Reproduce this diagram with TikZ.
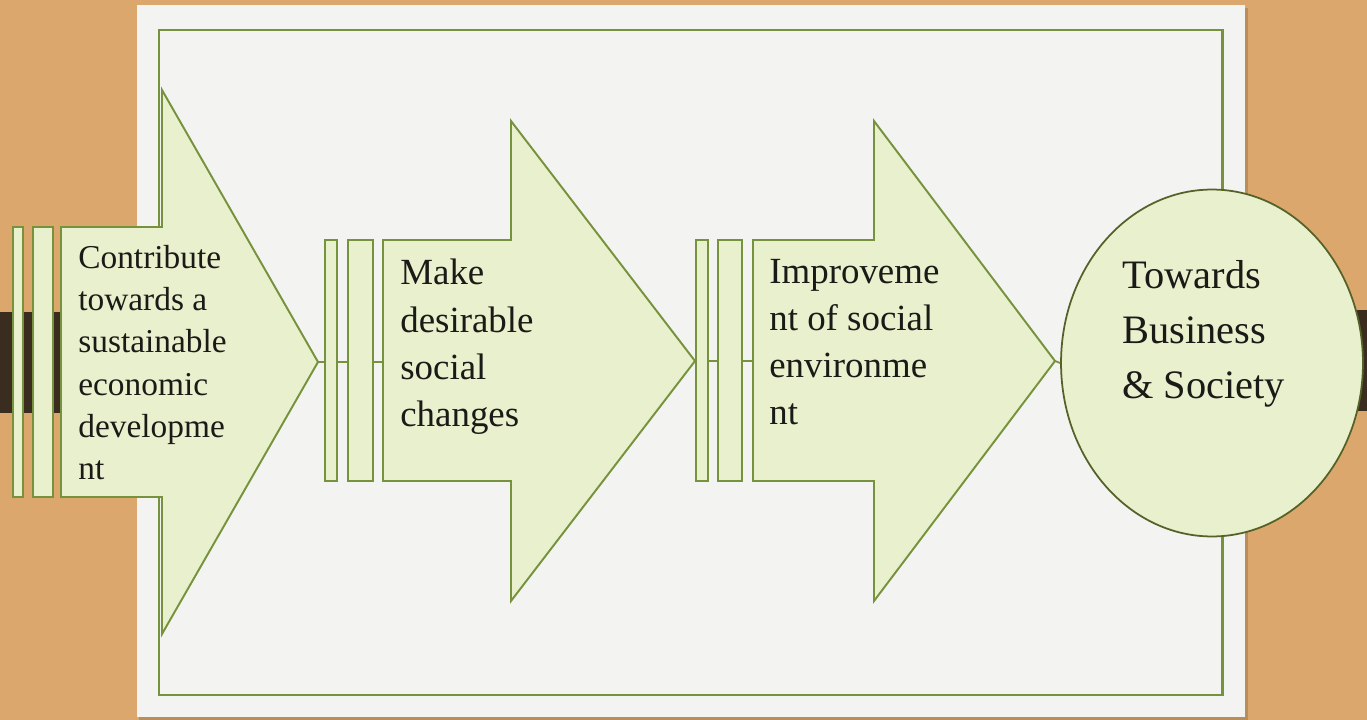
\documentclass[tikz,border=0pt]{standalone}
\usepackage{fontspec}
\setmainfont{Liberation Serif}
\usetikzlibrary{shapes.geometric}
\definecolor{wood}{RGB}{219,167,108}
\definecolor{darkbar}{RGB}{58,45,32}
\definecolor{panel}{RGB}{243,243,242}
\definecolor{olive}{RGB}{118,146,60}
\definecolor{darkolive}{RGB}{84,98,40}
\definecolor{leaf}{RGB}{233,240,206}
\definecolor{ink}{RGB}{26,26,22}

\begin{document}
\begin{tikzpicture}[x=0.02cm,y=-0.02cm,
    flow/.style={draw=olive,fill=leaf,line width=1.1pt},
    bar/.style={draw=olive,fill=leaf,line width=1.4pt,inner sep=0pt},
    link/.style={draw=olive,line width=1pt},
    words/.style={anchor=north west,inner sep=0pt,align=left,text=ink}]
    \useasboundingbox (0,0) rectangle (1367,720);
    % Draw the background
    \fill[wood] (0,0) rectangle (1367,720); % table
    \fill[darkbar] (0,312) rectangle (140,413); % left bar
    \fill[darkbar] (1240,310) rectangle (1367,411); % right bar
    \fill[black,opacity=0.15] (139,8) rectangle (1248,720); % shadow
    \fill[panel] (137,5) rectangle (1245,717); % sheet
    \draw[olive,line width=1.7pt] (159,30) rectangle (1222,695); % frame

    % Points where the arrows meet
    \coordinate (tip1) at (318,362);
    \coordinate (in2) at (383,362);
    \coordinate (tip2) at (695,361);
    \coordinate (in3) at (753,361);
    \coordinate (tip3) at (1055,361);
    \draw[link] (tip1) -- (in2);
    \draw[link] (tip2) -- (in3);

    % Draw the arrows
    \draw[flow] (61,227) -- (162,227) -- (162,90) -- (tip1) -- (162,634) -- (162,497) -- (61,497) -- cycle; % first arrow
    \draw[flow] (383,240) -- (511,240) -- (511,121) -- (tip2) -- (511,601) -- (511,481) -- (383,481) -- cycle; % second arrow
    \draw[flow] (753,240) -- (874,240) -- (874,121) -- (tip3) -- (874,601) -- (874,481) -- (753,481) -- cycle; % third arrow

    % Draw the bars in front of each arrow
    \node[bar,minimum width=0.2cm,minimum height=5.4cm] (bar1a) at (18,362) {};
    \node[bar,minimum width=0.4cm,minimum height=5.4cm] (bar1b) at (43,362) {};
    \node[bar,minimum width=0.24cm,minimum height=4.82cm] (bar2a) at (331,360.5) {};
    \node[bar,minimum width=0.5cm,minimum height=4.82cm] (bar2b) at (360.5,360.5) {};
    \node[bar,minimum width=0.24cm,minimum height=4.82cm] (bar3a) at (702,360.5) {};
    \node[bar,minimum width=0.48cm,minimum height=4.82cm] (bar3b) at (730,360.5) {};

    % Draw the goal
    \node[ellipse,draw=darkolive,fill=leaf,line width=1pt,minimum width=6.04cm,minimum height=6.94cm] (goal) at (1212,363) {};
    \draw[link] (tip3) -- (goal.west);

    % Texts
    \node[words,font=\fontsize{19}{24}\selectfont] (text1) at (78,245) {Contribute\\towards a\\sustainable\\economic\\developme\\nt};
    \node[words,font=\fontsize{21}{26.8}\selectfont] (text2) at (400,259) {Make\\desirable\\social\\changes};
    \node[words,font=\fontsize{21}{26.8}\selectfont] (text3) at (769,259) {Improveme\\nt of social\\environme\\nt};
    \node[words,font=\fontsize{23}{31.3}\selectfont] (goaltext) at (1122,260) {Towards\\Business\\\& Society};
\end{tikzpicture}
\end{document}
